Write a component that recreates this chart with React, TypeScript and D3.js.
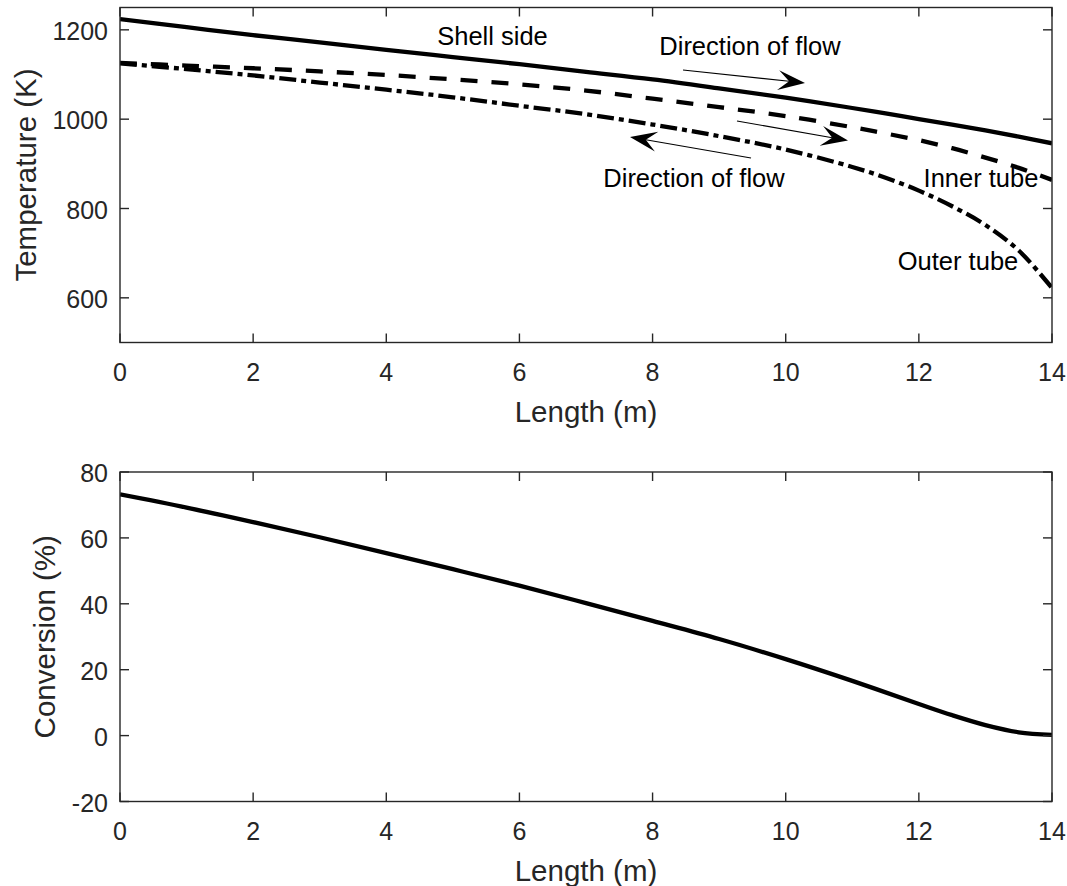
import React from "react";
import * as d3 from "d3";

const lengthPts = [0, 1, 2, 3, 4, 5, 6, 7, 8, 9, 10, 11, 11.5, 12, 12.5, 13, 13.5, 14];
const shellSide = [1224, 1206, 1188, 1172, 1155, 1139, 1123, 1106, 1089, 1069, 1048, 1025, 1013, 1000, 988, 975, 961, 946];
const innerTube = [1126, 1120, 1114, 1107, 1099, 1089, 1078, 1064, 1046, 1027, 1007, 982, 968, 953, 935, 914, 891, 864];
const outerTube = [1125, 1112, 1098, 1082, 1066, 1049, 1030, 1011, 988, 962, 932, 893, 869, 840, 805, 763, 706, 622];

const convLength = [0, 1, 2, 3, 4, 5, 6, 7, 8, 9, 10, 11, 12, 12.5, 13, 13.5, 14];
const conversion = [73.2, 69.2, 64.8, 60.2, 55.4, 50.5, 45.5, 40.2, 34.8, 29.3, 23.2, 16.6, 9.6, 6.2, 3.2, 1.0, 0.2];

const xTicks = [0, 2, 4, 6, 8, 10, 12, 14];
const tempTicks = [600, 800, 1000, 1200];
const convTicks = [-20, 0, 20, 40, 60, 80];

const AX = "#262626";
const FONT = "'Liberation Sans', Arial, Helvetica, sans-serif";

const left = 120;
const right = 1052;
const top1 = 7.5, bot1 = 342.5;
const top2 = 472, bot2 = 801.5;

const x = d3.scaleLinear().domain([0, 14]).range([left, right]);
const yT = d3.scaleLinear().domain([500, 1250]).range([bot1, top1]);
const yC = d3.scaleLinear().domain([-20, 80]).range([bot2, top2]);

function Axes({ y, yTicks, top, bottom, ylabel, ylabelX }: any) {
  const tl = 9;
  return (
    <g>
      <rect x={left} y={top} width={right - left} height={bottom - top} fill="none" stroke={AX} strokeWidth={1.4} />
      {xTicks.map((t) => (
        <g key={"x" + t}>
          <line x1={x(t)} x2={x(t)} y1={bottom} y2={bottom - tl} stroke={AX} strokeWidth={1.4} />
          <line x1={x(t)} x2={x(t)} y1={top} y2={top + tl} stroke={AX} strokeWidth={1.4} />
          <text x={x(t)} y={bottom + 38.5} textAnchor="middle" fontSize={25} fill={AX} fontFamily={FONT}>{t}</text>
        </g>
      ))}
      {yTicks.map((t: number) => (
        <g key={"y" + t}>
          <line x1={left} x2={left + tl} y1={y(t)} y2={y(t)} stroke={AX} strokeWidth={1.4} />
          <line x1={right} x2={right - tl} y1={y(t)} y2={y(t)} stroke={AX} strokeWidth={1.4} />
          <text x={left - 12} y={y(t) + 10} textAnchor="end" fontSize={25} fill={AX} fontFamily={FONT}>{t}</text>
        </g>
      ))}
      <text x={(left + right) / 2} y={bottom + 79} textAnchor="middle" fontSize={29.5} fill={AX} fontFamily={FONT}>Length (m)</text>
      <text transform={`translate(${ylabelX},${(top + bottom) / 2}) rotate(-90)`} textAnchor="middle" fontSize={29.5} fill={AX} fontFamily={FONT}>{ylabel}</text>
    </g>
  );
}

function Arrow({ x1, y1, x2, y2 }: any) {
  const ang = Math.atan2(y2 - y1, x2 - x1);
  const L = 27, W = 20, N = 16;
  const pt = (a: number, b: number) => {
    const px = x2 + a * Math.cos(ang) - b * Math.sin(ang);
    const py = y2 + a * Math.sin(ang) + b * Math.cos(ang);
    return `${px},${py}`;
  };
  const head = `M${pt(0, 0)} L${pt(-L, W / 2)} L${pt(-N, 0)} L${pt(-L, -W / 2)} Z`;
  return (
    <g>
      <line x1={x1} y1={y1} x2={x2 - N * Math.cos(ang)} y2={y2 - N * Math.sin(ang)} stroke="black" strokeWidth={1.1} />
      <path d={head} fill="black" />
    </g>
  );
}

export default function App() {
  const lineT = (vals: number[]) =>
    d3.line<number>().x((_, i) => x(lengthPts[i])).y((d) => yT(d)).curve(d3.curveCatmullRom)(vals) || "";
  const convPath =
    d3.line<number>().x((_, i) => x(convLength[i])).y((d) => yC(d)).curve(d3.curveCatmullRom)(conversion) || "";
  return (
    <svg width={1067} height={886} style={{ position: "absolute", left: 0, top: 0, background: "white" }} fontFamily={FONT}>
      <rect x={0} y={0} width={1067} height={886} fill="white" />
      <defs>
        <clipPath id="c1"><rect x={left} y={top1} width={right - left} height={bot1 - top1} /></clipPath>
        <clipPath id="c2"><rect x={left} y={top2} width={right - left} height={bot2 - top2} /></clipPath>
      </defs>
      <g clipPath="url(#c1)">
        <path d={lineT(shellSide)} fill="none" stroke="black" strokeWidth={4.3} />
        <path d={lineT(innerTube)} fill="none" stroke="black" strokeWidth={4.3} strokeDasharray="17 14" />
        <path d={lineT(outerTube)} fill="none" stroke="black" strokeWidth={4.3} strokeDasharray="17 5 5 5" />
      </g>
      <Axes y={yT} yTicks={tempTicks} top={top1} bottom={bot1} ylabel="Temperature (K)" ylabelX={36} />
      <text x={492.5} y={45} textAnchor="middle" fontSize={25.5} fill="black">Shell side</text>
      <text x={750} y={55} textAnchor="middle" fontSize={25.5} fill="black">Direction of flow</text>
      <text x={694} y={187} textAnchor="middle" fontSize={25.5} fill="black">Direction of flow</text>
      <text x={981} y={187} textAnchor="middle" fontSize={25.5} fill="black">Inner tube</text>
      <text x={958} y={270} textAnchor="middle" fontSize={25.5} fill="black">Outer tube</text>
      <Arrow x1={683} y1={70} x2={805} y2={83} />
      <Arrow x1={737} y1={121} x2={848} y2={140.5} />
      <Arrow x1={751} y1={158} x2={630} y2={137} />

      <g clipPath="url(#c2)">
        <path d={convPath} fill="none" stroke="black" strokeWidth={4.3} />
      </g>
      <Axes y={yC} yTicks={convTicks} top={top2} bottom={bot2} ylabel="Conversion (%)" ylabelX={55} />
    </svg>
  );
}
